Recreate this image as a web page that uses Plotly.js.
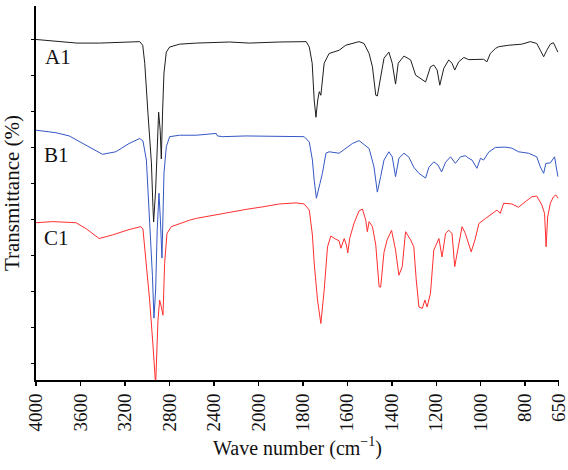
<!DOCTYPE html>
<html>
<head>
<meta charset="utf-8">
<script src="https://cdn.plot.ly/plotly-3.0.1.min.js"></script>
<style>html,body{margin:0;padding:0;background:#fff;}#chart{width:568px;height:470px;}</style>
</head>
<body>
<div id="chart"></div>
<script>
// Wavenumbers (cm^-1) and transmittance (arbitrary offset units)
var waveA1 = [4000,3785,3632,3426,3130,3067,3040,3022,2993,2962,2948,2942,2924,2906,2897,2883,2873,2861,2849,2828,2798,2708,2559,2260,2081,1906,1803,1785,1771,1758,1749,1741,1733,1726,1719,1712,1704,1682,1637,1607,1547,1525,1502,1487,1480,1472,1465,1457,1435,1413,1398,1383,1371,1345,1315,1293,1270,1248,1226,1211,1196,1184,1166,1144,1129,1117,1099,1076,1054,1024,987,972,957,934,919,874,815,777,748,732,717,703,687,673,662,653];
var transA1 = [8.99,8.94,8.89,8.89,8.94,8.93,8.83,8.33,6.94,5.56,4.33,3.92,4.81,6.19,6.97,6.47,5.67,7.03,8.06,8.64,8.78,8.86,8.89,8.92,8.89,8.92,8.93,8.93,8.78,8.33,7.31,6.83,7.31,7.54,7.44,7.86,8.33,8.60,8.69,8.83,8.93,8.88,8.60,8.23,7.86,7.44,7.42,7.72,8.47,8.64,8.33,7.75,8.33,8.53,8.42,8.00,7.89,7.81,8.23,8.28,8.14,7.72,8.19,8.42,8.33,8.14,8.37,8.49,8.43,8.44,8.44,8.37,8.60,8.74,8.79,8.83,8.86,8.93,8.88,8.69,8.51,8.69,8.86,8.90,8.74,8.64];

var waveB1 = [4000,3821,3701,3552,3402,3282,3163,3067,3038,3007,2978,2953,2939,2924,2910,2894,2881,2867,2849,2828,2798,2708,2559,2379,2368,2320,2110,1906,1794,1771,1757,1749,1739,1723,1712,1696,1682,1637,1607,1577,1547,1525,1502,1480,1465,1450,1435,1413,1398,1383,1368,1345,1323,1301,1278,1248,1233,1211,1192,1176,1158,1136,1114,1091,1069,1054,1039,1017,1001,987,964,934,889,860,830,785,748,732,717,707,687,668,662,653];
var transB1 = [6.47,6.40,6.31,6.06,5.80,5.87,6.10,6.24,6.17,5.64,4.11,2.44,1.25,2.03,3.69,4.72,3.97,2.92,5.28,6.01,6.29,6.33,6.33,6.38,6.31,6.29,6.31,6.31,6.29,6.14,5.64,5.08,4.58,4.99,5.27,5.83,5.87,5.83,5.96,6.10,6.18,6.06,5.96,5.45,4.75,5.18,5.64,5.87,5.73,5.18,5.69,5.83,5.72,5.44,5.27,5.14,5.44,5.59,5.50,5.31,5.58,5.73,5.55,5.73,5.76,5.69,5.64,5.41,5.69,5.64,5.86,5.99,6.00,5.97,5.87,5.83,5.73,5.45,5.27,5.55,5.56,5.73,5.45,5.18];

var waveC1 = [4000,3850,3641,3552,3432,3312,3163,3058,3038,3007,2978,2948,2924,2903,2888,2873,2858,2843,2822,2783,2708,2619,2559,2410,2260,2110,1981,1906,1831,1794,1771,1757,1749,1734,1719,1704,1689,1674,1652,1637,1629,1614,1604,1598,1589,1570,1547,1532,1517,1510,1502,1487,1472,1465,1457,1450,1435,1421,1401,1383,1368,1353,1338,1315,1301,1290,1278,1263,1251,1241,1226,1211,1196,1188,1174,1158,1144,1129,1117,1099,1084,1069,1054,1043,1026,1008,978,948,927,912,897,860,830,800,770,748,725,713,706,699,687,673,662,652];
var transC1 = [3.90,3.93,3.90,3.74,3.46,3.56,3.71,3.79,3.72,2.77,1.75,0.50,-0.61,1.19,1.75,1.56,1.33,2.77,3.60,3.79,3.88,3.97,4.02,4.11,4.18,4.27,4.34,4.42,4.45,4.42,4.25,3.56,2.78,1.75,1.10,2.03,3.23,3.53,3.44,3.40,3.19,3.46,3.28,3.06,3.47,3.88,4.23,4.28,3.97,3.65,3.93,3.79,3.28,2.68,2.12,2.11,3.08,3.42,3.69,3.14,2.44,2.68,3.65,3.42,3.23,2.31,1.56,1.52,1.75,1.56,1.94,3.14,3.33,3.46,2.95,3.60,3.69,3.60,2.68,3.23,3.79,3.60,3.33,3.09,3.42,3.88,4.02,4.16,4.25,4.16,4.44,4.42,4.33,4.48,4.62,4.64,4.39,4.16,3.23,4.06,4.44,4.62,4.67,4.58];

var tickWaves = [4000,3600,3200,2800,2400,2000,1800,1600,1400,1200,1000,800,650];
var seriesNames = ['A1','B1','C1'];

// Spectrometer-style axis: 4000-2000 compressed 2x relative to 2000-650
function axisPos(w){ return w >= 2000 ? (4000 - w) / 400 : 5 + (2000 - w) / 200; }

var serif = 'Liberation Serif, Times New Roman, serif';
var data = [
  {x: waveA1.map(axisPos), y: transA1, mode:'lines', line:{color:'#1e1e1e', width:1}, name:seriesNames[0]},
  {x: waveB1.map(axisPos), y: transB1, mode:'lines', line:{color:'#3457c4', width:1}, name:seriesNames[1]},
  {x: waveC1.map(axisPos), y: transC1, mode:'lines', line:{color:'#ff2e2e', width:1}, name:seriesNames[2]}
];

var layout = {
  width:568, height:470,
  margin:{l:36, r:9, t:6, b:90},
  paper_bgcolor:'#fff', plot_bgcolor:'#fff',
  showlegend:false,
  font:{family:serif, color:'#111', size:20},
  xaxis:{
    range:[0, axisPos(650) + 0.01],
    tickmode:'array', tickvals: tickWaves.map(axisPos), ticktext: tickWaves.map(String),
    tickangle:-90, ticks:'outside', ticklen:4, tickwidth:1.5, tickcolor:'#000',
    ticklabeloverflow:'allow',
    showline:true, linecolor:'#000', linewidth:2, showgrid:false, zeroline:false,
    tickfont:{family:serif, size:19, color:'#111'},
    title:{text:'Wave number (cm<sup>\u22121</sup>)', font:{family:serif, size:20, color:'#111'}, standoff:10}
  },
  yaxis:{
    range:[-0.47, 9.92], tickmode:'linear', tick0:0, dtick:1,
    ticks:'outside', ticklen:3, tickwidth:1, tickcolor:'#000', showticklabels:false,
    showline:true, linecolor:'#000', linewidth:2, showgrid:false, zeroline:false,
    title:{text:'Transmittance (%)', font:{family:serif, size:21, color:'#111'}, standoff:6}
  },
  annotations:[
    {xref:'paper', yref:'paper', x:0.013, y:0.864, xanchor:'left', yanchor:'middle', text:seriesNames[0], showarrow:false, font:{family:serif, size:21, color:'#111'}},
    {xref:'paper', yref:'paper', x:0.011, y:0.602, xanchor:'left', yanchor:'middle', text:seriesNames[1], showarrow:false, font:{family:serif, size:21, color:'#111'}},
    {xref:'paper', yref:'paper', x:0.011, y:0.380, xanchor:'left', yanchor:'middle', text:seriesNames[2], showarrow:false, font:{family:serif, size:21, color:'#111'}}
  ]
};
Plotly.newPlot('chart', data, layout, {displayModeBar:false, staticPlot:true});
</script>
</body>
</html>
